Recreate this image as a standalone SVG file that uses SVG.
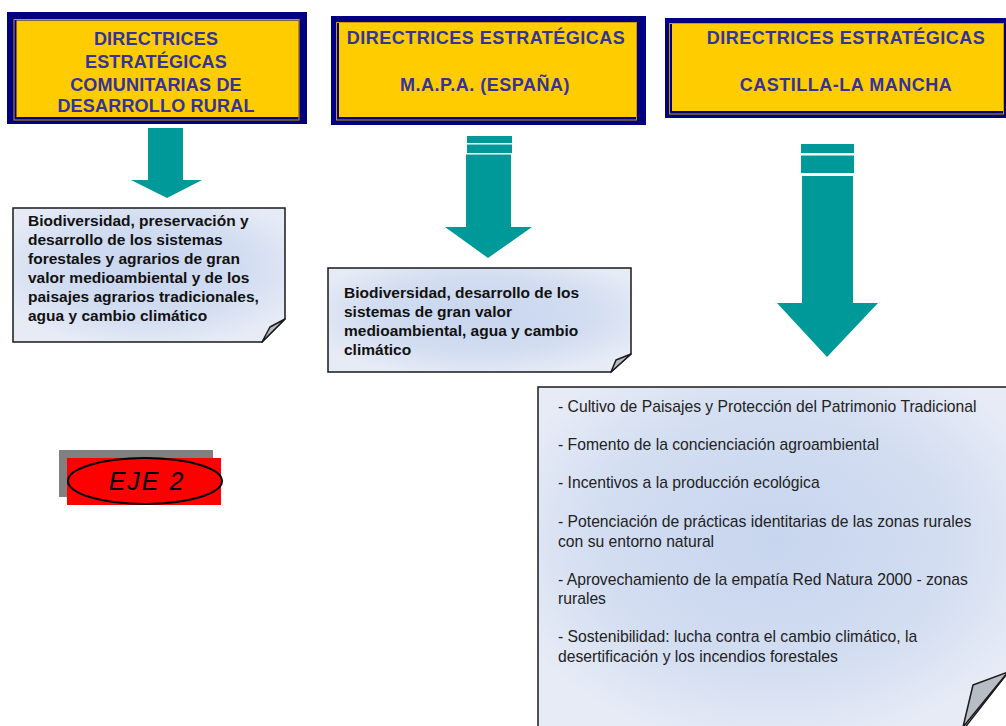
<svg xmlns="http://www.w3.org/2000/svg" width="1006" height="726" viewBox="0 0 1006 726">
<style>
.nav{fill:#000080}
.yel{fill:#FFCC00}
.gold{fill:none;stroke:#C89B00;stroke-width:1}
.ht{font-family:"Liberation Sans",Arial,sans-serif;font-weight:bold;font-size:18px;fill:#333399;text-anchor:middle;letter-spacing:0.5px}
.arr{fill:#009999}
.note{fill:url(#ng);stroke:#1a1a1a;stroke-width:1.5}
.fold{fill:#b8bcc4;stroke:#1a1a1a;stroke-width:1.5;stroke-linejoin:round}
.nt{font-family:"Liberation Sans",Arial,sans-serif;font-weight:bold;font-size:15.5px;fill:#111}
.rt{font-family:"Liberation Sans",Arial,sans-serif;font-size:15.7px;fill:#222}
</style>
<defs>
<radialGradient id="ng" cx="0.5" cy="0.45" r="0.6">
<stop offset="0" stop-color="#c7d5ee"/>
<stop offset="0.6" stop-color="#d2ddf1"/>
<stop offset="1" stop-color="#e6ebf6"/>
</radialGradient>
</defs>
<rect width="1006" height="726" fill="#fff"/>

<g id="box-comunitarias">
<rect class="nav" x="7" y="12" width="300" height="112"/>
<rect class="gold" x="14" y="19.5" width="285" height="100.5"/>
<rect class="yel" x="16.5" y="20.5" width="282" height="96.5"/>
<text class="ht" x="156" y="45" style="letter-spacing:0.2px">DIRECTRICES</text>
<text class="ht" x="156" y="68" style="letter-spacing:0.2px">ESTRATÉGICAS</text>
<text class="ht" x="156" y="91" style="letter-spacing:0.2px">COMUNITARIAS DE</text>
<text class="ht" x="156" y="112" style="letter-spacing:0.2px">DESARROLLO RURAL</text>
</g>

<g id="box-mapa">
<rect class="nav" x="331" y="16" width="315" height="109"/>
<rect class="gold" x="336.5" y="22.5" width="300" height="97.5"/>
<rect class="yel" x="339" y="23" width="297" height="94"/>
<text class="ht" x="486" y="44">DIRECTRICES ESTRATÉGICAS</text>
<text class="ht" x="485" y="91">M.A.P.A. (ESPAÑA)</text>
</g>

<g id="box-clm">
<rect class="nav" x="665" y="18" width="345" height="100"/>
<rect class="gold" x="669.5" y="23.5" width="334" height="90.5"/>
<rect class="yel" x="672" y="24" width="331" height="87"/>
<text class="ht" x="846" y="44">DIRECTRICES ESTRATÉGICAS</text>
<text class="ht" x="846" y="91">CASTILLA-LA MANCHA</text>
</g>

<g id="connectors">
<path class="arr" d="M148,128 H183 V180 H202 L167,198 L131,180 H148 Z"/>
<rect class="arr" x="467" y="136" width="45" height="7"/>
<rect class="arr" x="467" y="144.5" width="45" height="8.5"/>
<path class="arr" d="M466,154.5 H511 V227 H532 L488,258 L445,227 H466 Z"/>
<rect class="arr" x="801" y="144" width="53" height="9"/>
<rect class="arr" x="801" y="155.5" width="53" height="17.5"/>
<path class="arr" d="M802,176 H853 V303 H878 L827,357 L777,303 H802 Z"/>
</g>

<g id="note-comunitarias">
<path class="note" d="M13,208 H285 V319 L262,342 H13 Z"/>
<path class="fold" d="M262,342 L270,327 L285,319 Z"/>
<text class="nt" x="28" y="226">Biodiversidad, preservación  y</text>
<text class="nt" x="28" y="245">desarrollo de los sistemas</text>
<text class="nt" x="28" y="264">forestales y agrarios de gran</text>
<text class="nt" x="28" y="283">valor medioambiental y de los</text>
<text class="nt" x="28" y="302">paisajes agrarios tradicionales,</text>
<text class="nt" x="28" y="321">agua y cambio  climático</text>
</g>

<g id="note-mapa">
<path class="note" d="M328,268 H631 V354 L611,372 H328 Z"/>
<path class="fold" d="M611,372 L616,360 L631,354 Z"/>
<text class="nt" x="344" y="298">Biodiversidad, desarrollo de los</text>
<text class="nt" x="344" y="317">sistemas de gran valor</text>
<text class="nt" x="344" y="336">medioambiental, agua y cambio</text>
<text class="nt" x="344" y="355">climático</text>
</g>

<g id="note-clm">
<path class="note" d="M538,387 H1010 V670 L963,730 H538 Z"/>
<path class="fold" d="M963,727 L973,685 L1008,672 Z"/>
<text class="rt" x="558" y="412">- Cultivo de Paisajes  y Protección  del Patrimonio  Tradicional</text>
<text class="rt" x="558" y="450">- Fomento de la concienciación  agroambiental</text>
<text class="rt" x="558" y="488">- Incentivos a la producción  ecológica</text>
<text class="rt" x="558" y="527">- Potenciación  de  prácticas identitarias  de las zonas rurales</text>
<text class="rt" x="558" y="547">con su entorno  natural</text>
<text class="rt" x="558" y="585">- Aprovechamiento  de la empatía  Red Natura 2000  - zonas</text>
<text class="rt" x="558" y="604">rurales</text>
<text class="rt" x="558" y="642">- Sostenibilidad:  lucha contra  el cambio climático, la</text>
<text class="rt" x="558" y="662">desertificación  y los incendios  forestales</text>
</g>

<g id="eje2">
<rect x="59" y="450" width="154" height="47" fill="#808080"/>
<rect x="67" y="458" width="154" height="47" fill="#ff0000"/>
<ellipse cx="145" cy="481" rx="77" ry="23" fill="#ff0000" stroke="#000" stroke-width="2"/>
<text x="147" y="490" font-family="'Liberation Sans',Arial,sans-serif" font-style="italic" font-size="25" letter-spacing="2" text-anchor="middle" fill="#000">EJE 2</text>
</g>
</svg>
